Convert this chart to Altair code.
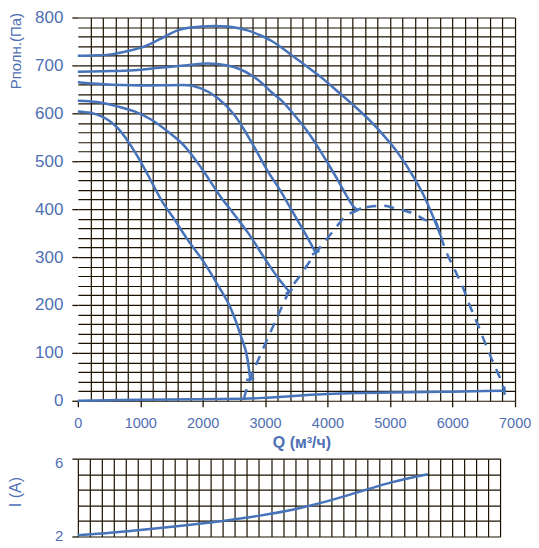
import altair as alt
import pandas as pd

BLUE = "#4673b9"
TEXT = "#4f6fb4"
GRID = "#1c1200"
FONT = "Liberation Sans"

# ---- pressure curves (Q m3/h, P Pa) ----
q_c1 = [0, 300, 533, 800, 1013, 1333, 1600, 1800, 1973, 2200, 2400, 2600, 2720, 2900, 3093, 3400, 3626, 3900, 4160, 4450, 4693, 4900, 5120, 5386, 5546, 5700, 5813]
p_c1 = [720, 721, 723, 730, 737, 756, 773, 779, 781, 782, 781, 777, 773, 764, 752, 724, 702, 675, 646, 613, 583, 554, 519, 466, 428, 382, 345]

q_c2 = [0, 400, 906, 1300, 1706, 2080, 2400, 2600, 2773, 2950, 3093, 3253, 3466, 3680, 3840, 4000, 4160, 4293, 4426, 4480]
p_c2 = [687, 688, 690, 695, 700, 704, 700, 692, 680, 663, 645, 628, 597, 562, 531, 497, 462, 431, 404, 398]

q_c3 = [0, 373, 1013, 1706, 1973, 2240, 2506, 2773, 3040, 3253, 3360, 3493, 3573, 3700, 3813]
p_c3 = [665, 661, 658, 659, 652, 632, 597, 542, 480, 437, 413, 383, 365, 336, 309]

q_c4 = [0, 373, 700, 906, 1173, 1440, 1706, 1973, 2293, 2500, 2720, 3040, 3200, 3386]
p_c4 = [626, 622, 612, 604, 587, 562, 532, 487, 425, 390, 352, 288, 258, 228]

q_c5 = [0, 200, 373, 640, 906, 1173, 1333, 1550, 1750, 2000, 2250, 2453, 2613, 2720, 2762]
p_c5 = [604, 601, 594, 569, 521, 459, 420, 378, 338, 293, 240, 192, 135, 86, 45]

q_base = [0, 500, 1000, 1800, 2660, 3093, 3573, 3995, 4500, 5013, 6000, 6837]
p_base = [0, 1, 2, 3, 4, 7, 11, 14, 16, 17, 19, 21]

# dashed boundary + extension of the top curve
q_dash = [2660, 2700, 2762, 2950, 3180, 3386, 3600, 3813, 3973, 4096, 4277, 4480, 4670, 4900, 5100, 5333, 5466, 5600, 5700, 5813, 5866, 6037, 6170, 6277, 6400, 6517, 6629, 6757, 6837]
p_dash = [4, 22, 45, 103, 170, 228, 268, 309, 335, 355, 383, 398, 405, 407, 401, 393, 385, 376, 380, 345, 324, 274, 237, 200, 162, 124, 88, 50, 21]

# end marks of curves
q_end = [4480, 3813, 3386, 2762, 6837]
p_end = [398, 309, 228, 45, 21]
a_end = [330, 332, 323, 350, 90]

# ---- current curve (Q m3/h, I A) ----
q_i = [0, 386, 1196, 1598, 2397, 2992, 3593, 3995, 4591, 4795, 5192, 5797]
i_i = [2.07, 2.15, 2.38, 2.51, 2.80, 3.06, 3.40, 3.70, 4.23, 4.42, 4.78, 5.20]

rows = []
for name, qs, ps in [("c1", q_c1, p_c1), ("c2", q_c2, p_c2), ("c3", q_c3, p_c3),
                     ("c4", q_c4, p_c4), ("c5", q_c5, p_c5), ("base", q_base, p_base)]:
    for k, (q, p) in enumerate(zip(qs, ps)):
        rows.append({"curve": name, "q": q, "p": p, "i": k})
solid = pd.DataFrame(rows)
dash = pd.DataFrame({"q": q_dash, "p": p_dash, "i": list(range(len(q_dash)))})
ends = pd.DataFrame({"q": q_end, "p": p_end, "ang": a_end})
cur = pd.DataFrame({"q": q_i, "a": i_i, "i": list(range(len(q_i)))})

xscale = alt.Scale(domain=[0, 7000], nice=False, zero=False)
yscale = alt.Scale(domain=[0, 800], nice=False, zero=False)

xaxis = alt.Axis(
    values=list(range(0, 7001, 200)),
    labelExpr="datum.value % 1000 === 0 ? format(datum.value, 'd') : ''",
    labelOverlap=False, labelFlush=False, labelFont=FONT, labelFontSize=14.5, labelColor=TEXT,
    labelPadding=10, tickSize=6, tickWidth=1.3, tickColor=GRID,
    tickOpacity={"condition": {"test": "datum.value % 1000 === 0", "value": 1}, "value": 0},
    grid=True, gridWidth=1.2,
    gridColor={"condition": {"test": "datum.value === 0", "value": "transparent"}, "value": GRID},
    domain=False, title="Q (м³/ч)", titleFont=FONT, titleFontSize=16, titleFontWeight="bold",
    titleColor=TEXT, titleX=224, titleY=34, titleBaseline="top", titleAlign="center",
)
yaxis = alt.Axis(
    values=list(range(0, 801, 20)),
    labelExpr="datum.value % 100 === 0 ? format(datum.value, 'd') : ''",
    labelOverlap=False, labelFlush=False, labelFont=FONT, labelFontSize=17, labelColor=TEXT,
    labelPadding=9, tickSize=6, tickWidth=1.3, tickColor=GRID,
    tickOpacity={"condition": {"test": "datum.value % 100 === 0", "value": 1}, "value": 0},
    grid=True, gridWidth=1.2, gridColor=GRID, domain=False,
    title="Pполн.(Па)", titleFont=FONT, titleFontSize=15, titleFontWeight="normal",
    titleColor=TEXT, titleAngle=270, titleX=-57, titleY=-5, titleAlign="right",
    titleBaseline="alphabetic",
)

X = alt.X("q:Q", scale=xscale, axis=xaxis)
Y = alt.Y("p:Q", scale=yscale, axis=yaxis)

lines = alt.Chart(solid).mark_line(color=BLUE, strokeWidth=2.5, interpolate="monotone").encode(
    x=X, y=Y, detail="curve:N", order="i:Q")
dashed = alt.Chart(dash).mark_line(color=BLUE, strokeWidth=2.5, strokeDash=[10, 8],
                                   interpolate="monotone").encode(
    x=X, y=Y, order="i:Q")
marks = alt.Chart(ends).mark_point(shape="stroke", size=70, strokeWidth=2.5, color=BLUE,
                                   filled=False, opacity=1).encode(
    x=X, y=Y, angle=alt.Angle("ang:Q", scale=None))

main = alt.layer(lines, dashed, marks).properties(width=437.6, height=384)

bx = alt.Axis(values=list(range(0, 7001, 200)), labels=False, ticks=False, domain=False,
              grid=True, gridColor=GRID, gridWidth=1.2, title=None)
by = alt.Axis(
    values=[2, 2.8, 3.6, 4.4, 5.2, 6],
    labelExpr="datum.value === 2 || datum.value === 6 ? format(datum.value, 'd') : ''",
    labelOverlap=False, labelFlush=False, labelFont=FONT, labelFontSize=15, labelColor=TEXT,
    labelPadding=9, tickSize=6, tickWidth=1.3, tickColor=GRID,
    tickOpacity={"condition": {"test": "datum.value === 2 || datum.value === 6", "value": 1}, "value": 0},
    labelOffset={"condition": {"test": "datum.value === 6", "value": 4}, "value": -1},
    grid=True, gridWidth=1.2, gridColor=GRID, domain=False,
    title="I (A)", titleFont=FONT, titleFontSize=16, titleFontWeight="normal",
    titleColor=TEXT, titleAngle=270, titleX=-57, titleY=33, titleAlign="center",
    titleBaseline="alphabetic",
)
bottom = alt.Chart(cur).mark_line(color=BLUE, strokeWidth=2.5, interpolate="monotone").encode(
    x=alt.X("q:Q", scale=alt.Scale(domain=[0, 7000], nice=False, zero=False), axis=bx),
    y=alt.Y("a:Q", scale=alt.Scale(domain=[2, 6], nice=False, zero=False), axis=by),
    order="i:Q",
).properties(width=423.3, height=78)

chart = alt.vconcat(main, bottom, spacing=5).properties(
    padding={"left": 0, "top": 0, "right": 0, "bottom": 0}
).configure_view(stroke=None).resolve_scale(x="independent", y="independent")

chart.save("out.html", embed_options={"renderer": "svg", "actions": False})
